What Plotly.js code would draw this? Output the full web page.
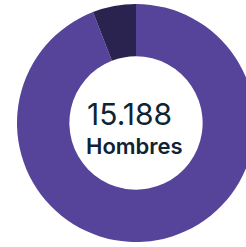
<!DOCTYPE html>
<html>
<head>
<meta charset="utf-8">
<script src="https://cdn.plot.ly/plotly-3.0.1.min.js"></script>
<style>
html,body{margin:0;padding:0;overflow:hidden;background:#fff;}
#chart{width:255px;height:247px;}
</style>
</head>
<body>
<div id="chart"></div>
<script>
const labels = ["Hombres", "Otros"];
const values = [15188, 950];
const colors = ["#56449a", "#2a234f"];
const centerValue = "15.188";
const centerLabel = "Hombres";

Plotly.newPlot("chart", [{
  type: "pie",
  labels: labels,
  values: values,
  hole: 0.56,
  sort: false,
  direction: "clockwise",
  rotation: 0,
  textinfo: "none",
  hoverinfo: "none",
  marker: {colors: colors, line: {width: 0}},
  showlegend: false
}], {
  width: 255,
  height: 247,
  margin: {l: 17, r: 0, t: 4, b: 5},
  paper_bgcolor: "#ffffff",
  annotations: [
    {text: centerValue, x: 0.286, y: 0.538, xref: "paper", yref: "paper", xanchor: "left", yanchor: "middle", showarrow: false,
     font: {family: "Inter", size: 30, weight: 400, color: "#0e2435"}},
    {text: centerLabel, x: 0.282, y: 0.403, xref: "paper", yref: "paper", xanchor: "left", yanchor: "middle", showarrow: false,
     font: {family: "Inter", size: 22, weight: 600, color: "#0e2435"}}
  ]
}, {displayModeBar: false, staticPlot: true});
</script>
</body>
</html>
